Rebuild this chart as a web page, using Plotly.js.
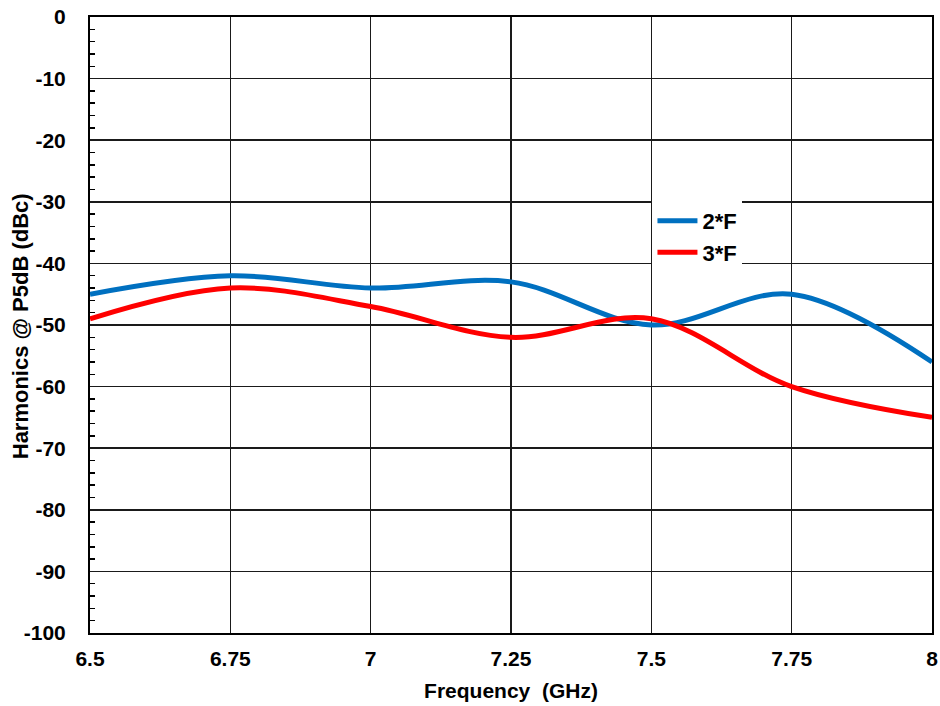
<!DOCTYPE html>
<html><head><meta charset="utf-8">
<script src="https://cdn.plot.ly/plotly-3.0.1.min.js"></script>
<style>html,body{margin:0;padding:0;background:#fff;}#chart{width:940px;height:706px;}</style>
</head><body><div id="chart"></div>
<script>
const freq = [6.5, 6.75, 7.0, 7.25, 7.5, 7.75, 8.0];
const harm2F = [-45, -42, -44, -43, -50, -45, -56];
const harm3F = [-49, -44, -47, -52, -49, -60, -65];
const xTicks = [6.5, 6.75, 7, 7.25, 7.5, 7.75, 8];
const xTickText = ['6.5', '6.75', '7', '7.25', '7.5', '7.75', '8'];
const yTicks = [0, -10, -20, -30, -40, -50, -60, -70, -80, -90, -100];
const yTickText = ['0', '-10', '-20', '-30', '-40', '-50', '-60', '-70', '-80', '-90', '-100'];
const yMinorTicks = [-2,-4,-6,-8,-12,-14,-16,-18,-22,-24,-26,-28,-32,-34,-36,-38,-42,-44,-46,-48,-52,-54,-56,-58,-62,-64,-66,-68,-72,-74,-76,-78,-82,-84,-86,-88,-92,-94,-96,-98];

const fam = 'Liberation Sans, Arial, sans-serif';
const bold = (s) => ({family: fam, size: s, color: '#000', weight: 'bold'});
const traces = [
  {x: freq, y: harm2F, name: '2*F', mode: 'lines', line: {color: '#0070C0', width: 5, shape: 'spline', smoothing: 1}},
  {x: freq, y: harm3F, name: '3*F', mode: 'lines', line: {color: '#FF0000', width: 5, shape: 'spline', smoothing: 1}}
];
const layout = {
  width: 940, height: 706,
  margin: {l: 90, r: 8, t: 17, b: 73},
  paper_bgcolor: '#fff', plot_bgcolor: '#fff',
  font: bold(21),
  showlegend: true,
  legend: {x: 0.668, y: 0.703, xanchor: 'left', yanchor: 'top', bgcolor: '#fff',
    font: bold(22), itemwidth: 40, tracegroupgap: 0},
  xaxis: {
    range: [6.5, 8], tickvals: xTicks, ticktext: xTickText,
    showgrid: true, gridcolor: '#1a1a1a', gridwidth: 1.6,
    showline: true, linecolor: '#000', linewidth: 2, mirror: true,
    ticks: '', zeroline: false, ticklabelstandoff: 6,
    tickfont: bold(21),
    title: {text: 'Frequency\u00a0\u00a0(GHz)', font: bold(21), standoff: 14}
  },
  yaxis: {
    range: [-100, 0], tickvals: yTicks, ticktext: yTickText,
    showgrid: true, gridcolor: '#1a1a1a', gridwidth: 1.6,
    showline: true, linecolor: '#000', linewidth: 2, mirror: true,
    ticks: '', zeroline: false, ticklabelstandoff: 18,
    minor: {tickvals: yMinorTicks, ticks: 'inside', ticklen: 5, tickcolor: '#000', tickwidth: 1.5, showgrid: false},
    tickfont: bold(21)
  },
  annotations: [{
    text: 'Harmonics @ P5dB (dBc)', textangle: -90, showarrow: false,
    xref: 'paper', yref: 'paper', x: -0.0831, y: 0.498, xanchor: 'center', yanchor: 'middle',
    font: bold(22)
  }]
};
Plotly.newPlot('chart', traces, layout, {displayModeBar: false, staticPlot: true});
</script></body></html>
